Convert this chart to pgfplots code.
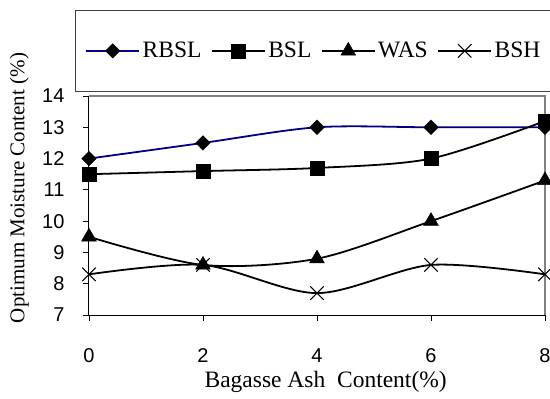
\documentclass[border=0pt]{standalone}
\usepackage{fontspec}
\setmainfont{Liberation Serif}
\setsansfont{Liberation Sans}
\usepackage{pgfplots}
\pgfplotsset{compat=1.18}
\definecolor{navy}{RGB}{0,0,128}
\begin{document}
\begin{tikzpicture}[x=1pt,y=1pt]
\path[use as bounding box] (0,0) rectangle (550,-399);
\begin{axis}[
  at={(89pt,-315pt)}, anchor=south west,
  scale only axis, width=456pt, height=219pt,
  xmin=0, xmax=8, ymin=7, ymax=14,
  xtick={0,2,4,6,8}, ytick={7,8,...,14},
  tick align=outside, xtick pos=bottom, ytick pos=left,
  major tick length=6pt,
  major tick style={black, line width=0.8pt},
  axis line style={draw=none},
  clip=false,
  /pgf/number format/assume math mode=true,
  ticklabel style={font=\fontsize{20}{23}\selectfont\sffamily},
  yticklabel style={xshift=-15pt},
  xticklabel style={yshift=-24pt},
  xlabel={Bagasse Ash\ \ Content(\%)},
  ylabel={Optimum Moisture Content (\%)},
  xlabel style={font=\fontsize{23.5}{27}\selectfont, at={(axis description cs:0.519,-0.333)}, anchor=base},
  ylabel style={font=\fontsize{21}{25}\selectfont, at={(axis description cs:-0.153,0.58)}, anchor=center},
  legend columns=4,
  legend style={at={(axis description cs:-0.0307,1.393)}, anchor=north west,
    draw=black!75, line width=0.8pt, inner xsep=10pt, inner ysep=30pt,
    font=\fontsize{23.5}{27}\selectfont,
    /tikz/every even column/.append style={column sep=7pt},
    nodes={inner xsep=2.5pt}},
  legend image code/.code={\draw[mark repeat=2,mark phase=2,#1] plot coordinates {(0pt,0pt) (26.5pt,0pt) (53pt,0pt)};},
]
\draw[gray, line width=1.5pt] (rel axis cs:0,1) -- (rel axis cs:1,1) -- (rel axis cs:1,0);
\draw[black, line width=1pt] (rel axis cs:0,1) -- (rel axis cs:0,0) -- (rel axis cs:1,0);
\addplot[navy, line width=1.8pt, smooth, mark=square*, mark size=5.1pt,
  mark options={rotate=45, solid, fill=black, draw=black, line width=0.5pt}]
  coordinates {(0,12) (2,12.5) (4,13) (6,13) (8,13)};
\addlegendentry{RBSL}
\addplot[black, line width=1.8pt, smooth, mark=square*, mark size=7pt,
  mark options={solid, fill=black, line width=0.5pt}]
  coordinates {(0,11.5) (2,11.6) (4,11.7) (6,12) (8,13.2)};
\addlegendentry{BSL}
\addplot[black, line width=1.8pt, smooth, mark=triangle*, mark size=8.5pt,
  mark options={solid, fill=black, line width=0.5pt}]
  coordinates {(0,9.5) (2,8.6) (4,8.8) (6,10) (8,11.3)};
\addlegendentry{WAS}
\addplot[black, line width=1.8pt, smooth, mark=x, mark size=9.5pt,
  mark options={solid, line width=1pt}]
  coordinates {(0,8.3) (2,8.6) (4,7.7) (6,8.6) (8,8.3)};
\addlegendentry{BSH}
\end{axis}
\end{tikzpicture}
\end{document}
